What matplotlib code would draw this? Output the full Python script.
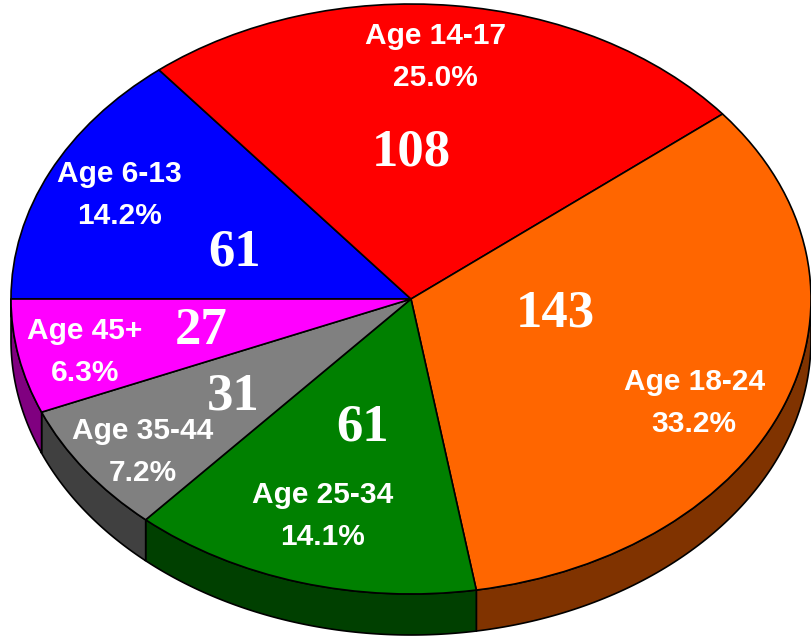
import matplotlib.pyplot as plt
import numpy as np

# data
categories = ['Age 6-13', 'Age 14-17', 'Age 18-24', 'Age 25-34', 'Age 35-44', 'Age 45+']
counts = [61, 108, 143, 61, 31, 27]
pct_labels = ['14.2%', '25.0%', '33.2%', '14.1%', '7.2%', '6.3%']

top_colors = ['#0000FF', '#FF0000', '#FF6600', '#008000', '#808080', '#FF00FF']
side_colors = ['#000080', '#800000', '#803300', '#004000', '#404040', '#800080']

# label positions, in units of the pie radius
label_pos = [(-0.728, 0.352), (0.062, 0.820), (0.708, -0.352),
             (-0.222, -0.736), (-0.670, -0.519), (-0.815, -0.180)]
count_pos = [(-0.442, 0.159), (0.002, 0.498), (0.360, -0.048),
             (-0.122, -0.437), (-0.445, -0.332), (-0.525, -0.108)]

depth = 0.139

fig = plt.figure(figsize=(8.11, 6.37), dpi=100)
ax = fig.add_axes([0, 0, 1, 1])

wedges, _ = ax.pie(counts, colors=top_colors, startangle=180, counterclock=False,
                   wedgeprops=dict(edgecolor='black', linewidth=1.2, zorder=3))

# side walls of the 3d pie (front half only)
for w, c in zip(wedges, side_colors):
    for shift in (-360, 0, 360):
        t1 = max(w.theta1 + shift, -180)
        t2 = min(w.theta2 + shift, 0)
        if t2 <= t1:
            continue
        t = np.radians(np.linspace(t1, t2, 100))
        xs = np.concatenate([np.cos(t), np.cos(t[::-1])])
        ys = np.concatenate([np.sin(t), np.sin(t[::-1]) - depth])
        ax.fill(xs, ys, facecolor=c, edgecolor='black', linewidth=1.2, zorder=1)

for i in range(len(categories)):
    lx, ly = label_pos[i]
    ax.text(lx, ly, categories[i] + '\n' + pct_labels[i], ha='center', va='center',
            color='white', fontsize=21.5, fontweight='bold', family='Liberation Sans',
            linespacing=1.65, zorder=5)
    cx, cy = count_pos[i]
    ax.text(cx, cy, str(counts[i]), ha='center', va='center', color='white',
            fontsize=38, fontweight='bold', family='Liberation Serif', zorder=5)

ax.set_aspect('auto')
ax.set_xlim(-1.0275, 1.0)
ax.set_ylim(-1.1458, 1.0136)
ax.axis('off')

fig.savefig('out.png', dpi=100)
